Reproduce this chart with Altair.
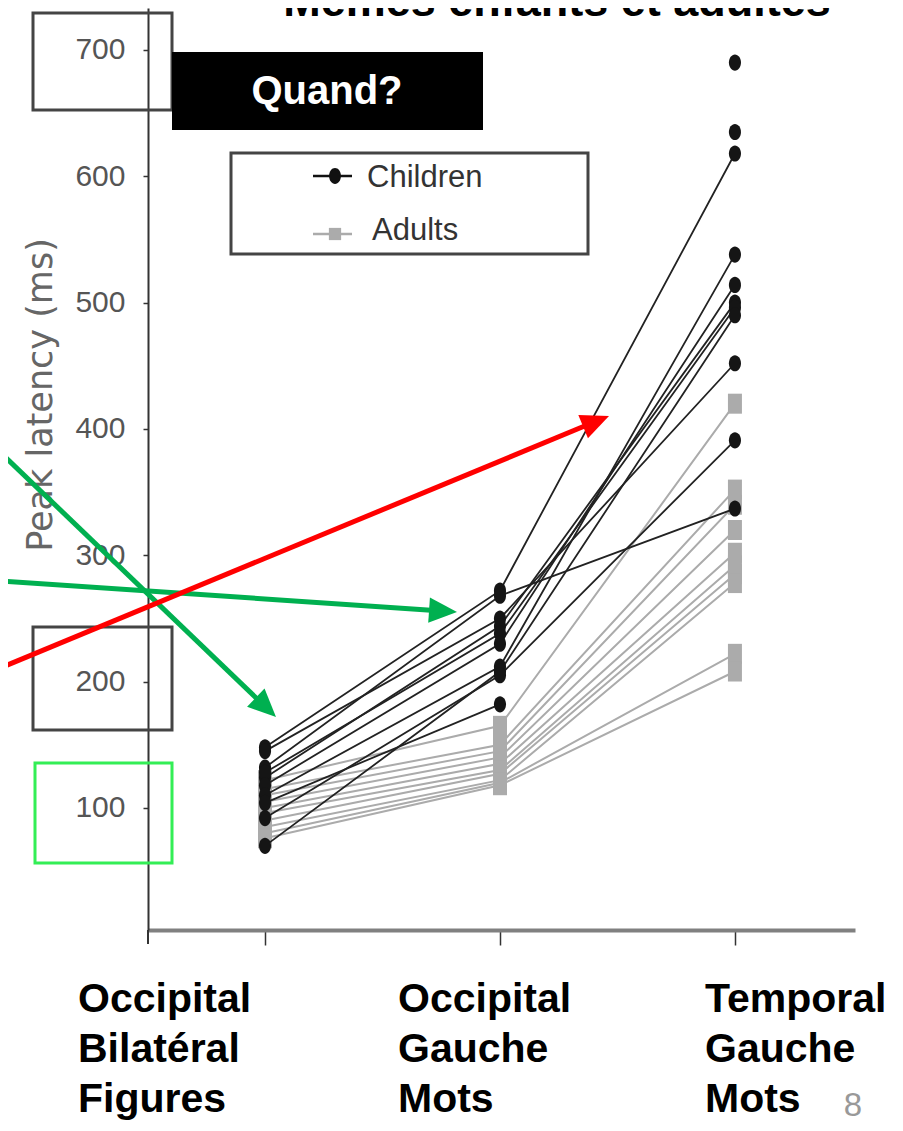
import math
import altair as alt
import pandas as pd

# ---------------- data ----------------
site_pos = [1, 2, 3]
site_labels = ["Occipital\nBilatéral\nFigures", "Occipital\nGauche\nMots", "Temporal\nGauche\nMots"]

children_ob = [148, 132, 145, 124, 128, 118, 110, 70, 92, 104, None, None]
children_og = [272, 268, 250, 244, 238, 230, 212, 208, 205, 182, None, None]
children_t = [618, 337, 452, 500, 496, 514, 538, 490, 391, None, 690, 635]

adults_ob = [122, 115, 110, 105, 100, 96, 90, 85, 80, 76]
adults_og = [165, 150, 145, 140, 135, 130, 127, 122, 120, 118]
adults_t = [420, 352, 340, 320, 302, 292, 285, 278, 222, 208]

y_ticks = [100, 200, 300, 400, 500, 600, 700]


def long_table(ob, og, t, prefix):
    rows = []
    for i, vals in enumerate(zip(ob, og, t)):
        for s, v in zip(site_pos, vals):
            if v is not None:
                rows.append({"subject": f"{prefix}{i}", "site": s, "value": v})
    return pd.DataFrame(rows)


df_child = long_table(children_ob, children_og, children_t, "c")
df_adult = long_table(adults_ob, adults_og, adults_t, "a")

# ---------------- layout helpers ----------------
OX, OY = 148, 8  # page position of the plot origin
W, H = 707, 922


def px(x):
    return x - OX


def py(y):
    return y - OY


one = pd.DataFrame({"k": [0]})
sans = "Liberation Sans, Arial, sans-serif"

x_enc = alt.X(
    "site:Q",
    scale=alt.Scale(domain=[0.502, 3.511], nice=False, zero=False),
    axis=alt.Axis(values=site_pos, labels=False, title=None, grid=False,
                  tickSize=15, tickColor="#333", tickWidth=1.5,
                  domainColor="#808080", domainWidth=4),
)
y_enc = alt.Y(
    "value:Q",
    scale=alt.Scale(domain=[3.4, 733.2], nice=False, zero=False),
    axis=alt.Axis(values=y_ticks, title=None, grid=False,
                  tickSize=5, tickColor="#333", tickWidth=1.5,
                  domainColor="#333", domainWidth=2,
                  labelFont=sans, labelFontSize=30, labelColor="#555", labelPadding=18),
)

ellipse = "M-0.75,0A0.75,1,0,1,0,0.75,0A0.75,1,0,1,0,-0.75,0Z"
rect_shape = "M-0.7,-1H0.7V1H-0.7Z"

adult_lines = alt.Chart(df_adult).mark_line(color="#ababab", strokeWidth=2).encode(
    x=x_enc, y=y_enc, detail="subject:N", order="site:Q")
adult_pts = alt.Chart(df_adult).mark_point(
    filled=True, shape=rect_shape, size=400, color="#ababab", opacity=1, strokeWidth=0
).encode(x=x_enc, y=y_enc)
child_lines = alt.Chart(df_child).mark_line(color="#222222", strokeWidth=1.8).encode(
    x=x_enc, y=y_enc, detail="subject:N", order="site:Q")
child_pts = alt.Chart(df_child).mark_point(
    filled=True, shape=ellipse, size=260, color="#151515", opacity=1, strokeWidth=0
).encode(x=x_enc, y=y_enc)

layers = [adult_lines, adult_pts, child_lines, child_pts]

# y axis line extending slightly below the x axis
layers.append(alt.Chart(one).mark_rule(color="#333", strokeWidth=2).encode(
    x=alt.value(0), y=alt.value(H), y2=alt.value(H + 14)))


def text(t, x, y, size, color="black", bold=False, font=sans,
         align="left", baseline="alphabetic", angle=None, line_height=None):
    kw = dict(text=t, fontSize=size, color=color, font=font, align=align, baseline=baseline,
              fontWeight="bold" if bold else "normal")
    if angle is not None:
        kw["angle"] = angle
    if line_height is not None:
        kw["lineHeight"] = line_height
        kw["lineBreak"] = "\n"
    return alt.Chart(one).mark_text(**kw).encode(x=alt.value(px(x)), y=alt.value(py(y)))


def box(x0, y0, x1, y1, stroke=None, fill=None, sw=3):
    kw = {}
    if stroke:
        kw.update(stroke=stroke, strokeWidth=sw)
    kw["fill"] = fill if fill else "transparent"
    return alt.Chart(one).mark_rect(**kw).encode(
        x=alt.value(px(x0)), x2=alt.value(px(x1)), y=alt.value(py(y0)), y2=alt.value(py(y1)))


# y axis title
layers.append(text("Peak latency (ms)", 41, 395, 35, color="#666",
                   font="DejaVu Sans, sans-serif", align="center", baseline="middle", angle=270))

# category labels (slide text)
label_x = [78, 398, 705]
for lab, lx in zip(site_labels, label_x):
    layers.append(text(lab, lx, 1012, 41, bold=True, line_height=50))

# title (cut at the top of the slide, as in the original)
layers.append(text("Mêmes enfants et adultes", 557, 16, 45, bold=True, align="center"))

# boxes around tick labels
layers.append(box(33, 13, 172, 110, stroke="#444"))
layers.append(box(33, 627, 172, 730, stroke="#444"))
layers.append(box(35, 763, 172, 863, stroke="#33ee55"))

# "Quand?" label
layers.append(box(172, 52, 483, 130, fill="black"))
layers.append(text("Quand?", 327, 92, 40, color="white", bold=True, align="center", baseline="middle"))

# legend
layers.append(box(231, 153, 588, 254, stroke="#444", fill="white"))
layers.append(alt.Chart(one).mark_rule(color="#111", strokeWidth=2.5).encode(
    x=alt.value(px(313)), x2=alt.value(px(352)), y=alt.value(py(176)), y2=alt.value(py(176))))
layers.append(alt.Chart(one).mark_point(filled=True, shape=ellipse, size=250, color="#111", opacity=1).encode(
    x=alt.value(px(335)), y=alt.value(py(176))))
layers.append(alt.Chart(one).mark_rule(color="#ababab", strokeWidth=2.5).encode(
    x=alt.value(px(313)), x2=alt.value(px(352)), y=alt.value(py(234)), y2=alt.value(py(234))))
layers.append(alt.Chart(one).mark_point(filled=True, shape="square", size=150, color="#ababab", opacity=1).encode(
    x=alt.value(px(335)), y=alt.value(py(234))))
layers.append(text("Children", 367, 178, 31, color="#333", baseline="middle"))
layers.append(text("Adults", 372, 231, 31, color="#333", baseline="middle"))

# page number
layers.append(text("8", 853, 1116, 33, color="#999", align="center"))

# arrows
arrowhead = "M0,0L0.45,1L-0.45,1Z"


def arrow(x0, y0, x1, y1, color, width=5, head=28):
    dx, dy = x1 - x0, y1 - y0
    L = math.hypot(dx, dy)
    ux, uy = dx / L, dy / L
    ex, ey = x1 - ux * head * 0.8, y1 - uy * head * 0.8
    ang = math.degrees(math.atan2(dx, -dy)) % 360
    shaft = alt.Chart(one).mark_rule(color=color, strokeWidth=width, strokeCap="butt").encode(
        x=alt.value(px(x0)), x2=alt.value(px(ex)), y=alt.value(py(y0)), y2=alt.value(py(ey)))
    tip = alt.Chart(one).mark_point(filled=True, shape=arrowhead, size=(2 * head) ** 2,
                                    color=color, opacity=1, angle=ang, strokeWidth=0).encode(
        x=alt.value(px(x1)), y=alt.value(py(y1)))
    return [shaft, tip]


layers += arrow(0, 452, 276, 717, "#00b050")
layers += arrow(0, 581, 457, 612, "#00b050")
layers += arrow(0, 668, 609, 416, "#ff0000")

chart = alt.layer(*layers).properties(
    width=W, height=H,
    autosize=alt.AutoSizeParams(type="none"),
    padding={"left": 140, "top": 0, "right": 40, "bottom": 193},
    background="white",
).configure_view(stroke=None)

chart.save("out.html", embed_options={"renderer": "svg", "actions": False})
